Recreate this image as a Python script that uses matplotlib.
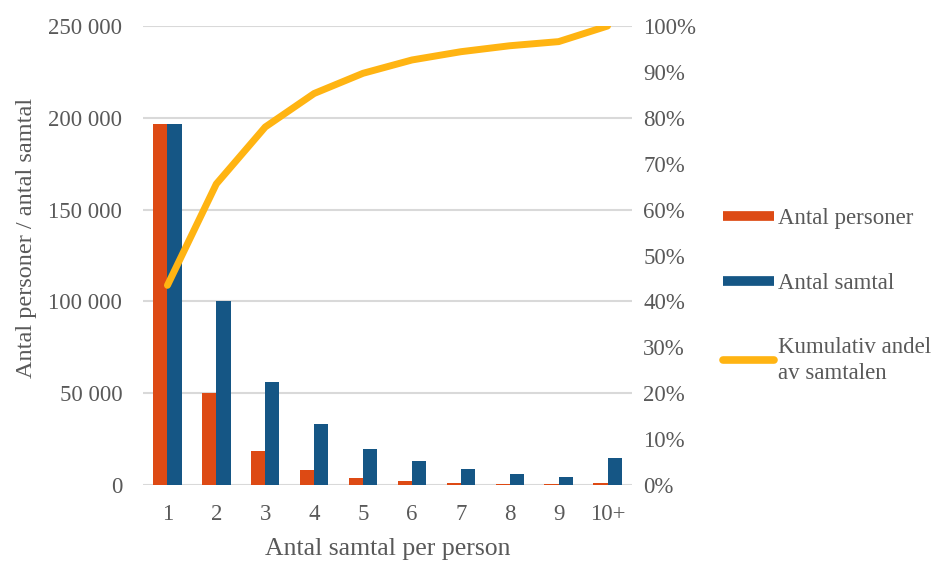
import matplotlib.pyplot as plt
from matplotlib.lines import Line2D
from matplotlib.ticker import FuncFormatter, MultipleLocator
import numpy as np

plt.rcParams['font.family'] = ['Liberation Serif', 'DejaVu Serif']

kategorier = ['1', '2', '3', '4', '5', '6', '7', '8', '9', '10+']
antal_personer = [196500, 50000, 18700, 8200, 3900, 2200, 1200, 700, 500, 900]
antal_samtal = [196500, 100000, 56100, 33000, 19800, 12900, 8550, 5830, 4360, 14900]
kumulativ_andel = [43.5, 65.6, 78.0, 85.3, 89.7, 92.6, 94.4, 95.7, 96.6, 100.0]

orange = '#DD4A14'
bla = '#155685'
gul = '#FFB412'
grey = '#595959'

fig = plt.figure(figsize=(9.37, 5.63), dpi=100)
ax1 = fig.add_axes([0.1526, 0.1385, 0.5219, 0.8153])

x = np.arange(len(kategorier))
w = 0.29
ax1.bar(x - w / 2, antal_personer, w, color=orange, zorder=3)
ax1.bar(x + w / 2, antal_samtal, w, color=bla, zorder=3)

ax1.set_xlim(-0.5, len(kategorier) - 0.5)
ax1.set_ylim(0, 250000)
ax1.yaxis.set_major_locator(MultipleLocator(50000))
ax1.yaxis.set_major_formatter(FuncFormatter(lambda v, p: f'{int(v):,}'.replace(',', ' ')))
ax1.grid(axis='y', color='#D9D9D9', lw=1.5, zorder=0)
ax1.set_xticks(x)
ax1.set_xticklabels(kategorier)
for s in ax1.spines.values():
    s.set_visible(False)
ax1.tick_params(axis='both', length=0, labelsize=16.5, labelcolor=grey)
ax1.tick_params(axis='y', pad=15)
ax1.tick_params(axis='x', pad=14)
ax1.set_xlabel('Antal samtal per person', fontsize=18.5, color=grey, labelpad=9)
ax1.set_ylabel('Antal personer / antal samtal', fontsize=17.5, color=grey, labelpad=8)
ax1.yaxis.label.set_y(0.538)

ax2 = ax1.twinx()
ax2.plot(x, kumulativ_andel, color=gul, lw=5, solid_capstyle='round',
         solid_joinstyle='round', zorder=4)
ax2.set_ylim(0, 100)
ax2.yaxis.set_major_locator(MultipleLocator(10))
ax2.yaxis.set_major_formatter(FuncFormatter(lambda v, p: f'{int(v)}%'))
for s in ax2.spines.values():
    s.set_visible(False)
ax2.tick_params(axis='y', length=0, labelsize=16.5, labelcolor=grey, pad=8)

handles = [
    Line2D([], [], color=orange, lw=7, solid_capstyle='butt'),
    Line2D([], [], color=bla, lw=7, solid_capstyle='butt'),
    Line2D([], [], color=gul, lw=5.5, solid_capstyle='round'),
]
labels = ['Antal personer', 'Antal samtal', 'Kumulativ andel\nav samtalen']
leg = fig.legend(handles, labels, loc='upper left', bbox_to_anchor=(0.762, 0.647),
                 frameon=False, fontsize=16.5, labelcolor=grey, handlelength=2.2,
                 handletextpad=0.2, labelspacing=1.9, borderaxespad=0)
for t in leg.get_texts():
    t.set_linespacing(1.3)

fig.savefig('out.png', dpi=100)
